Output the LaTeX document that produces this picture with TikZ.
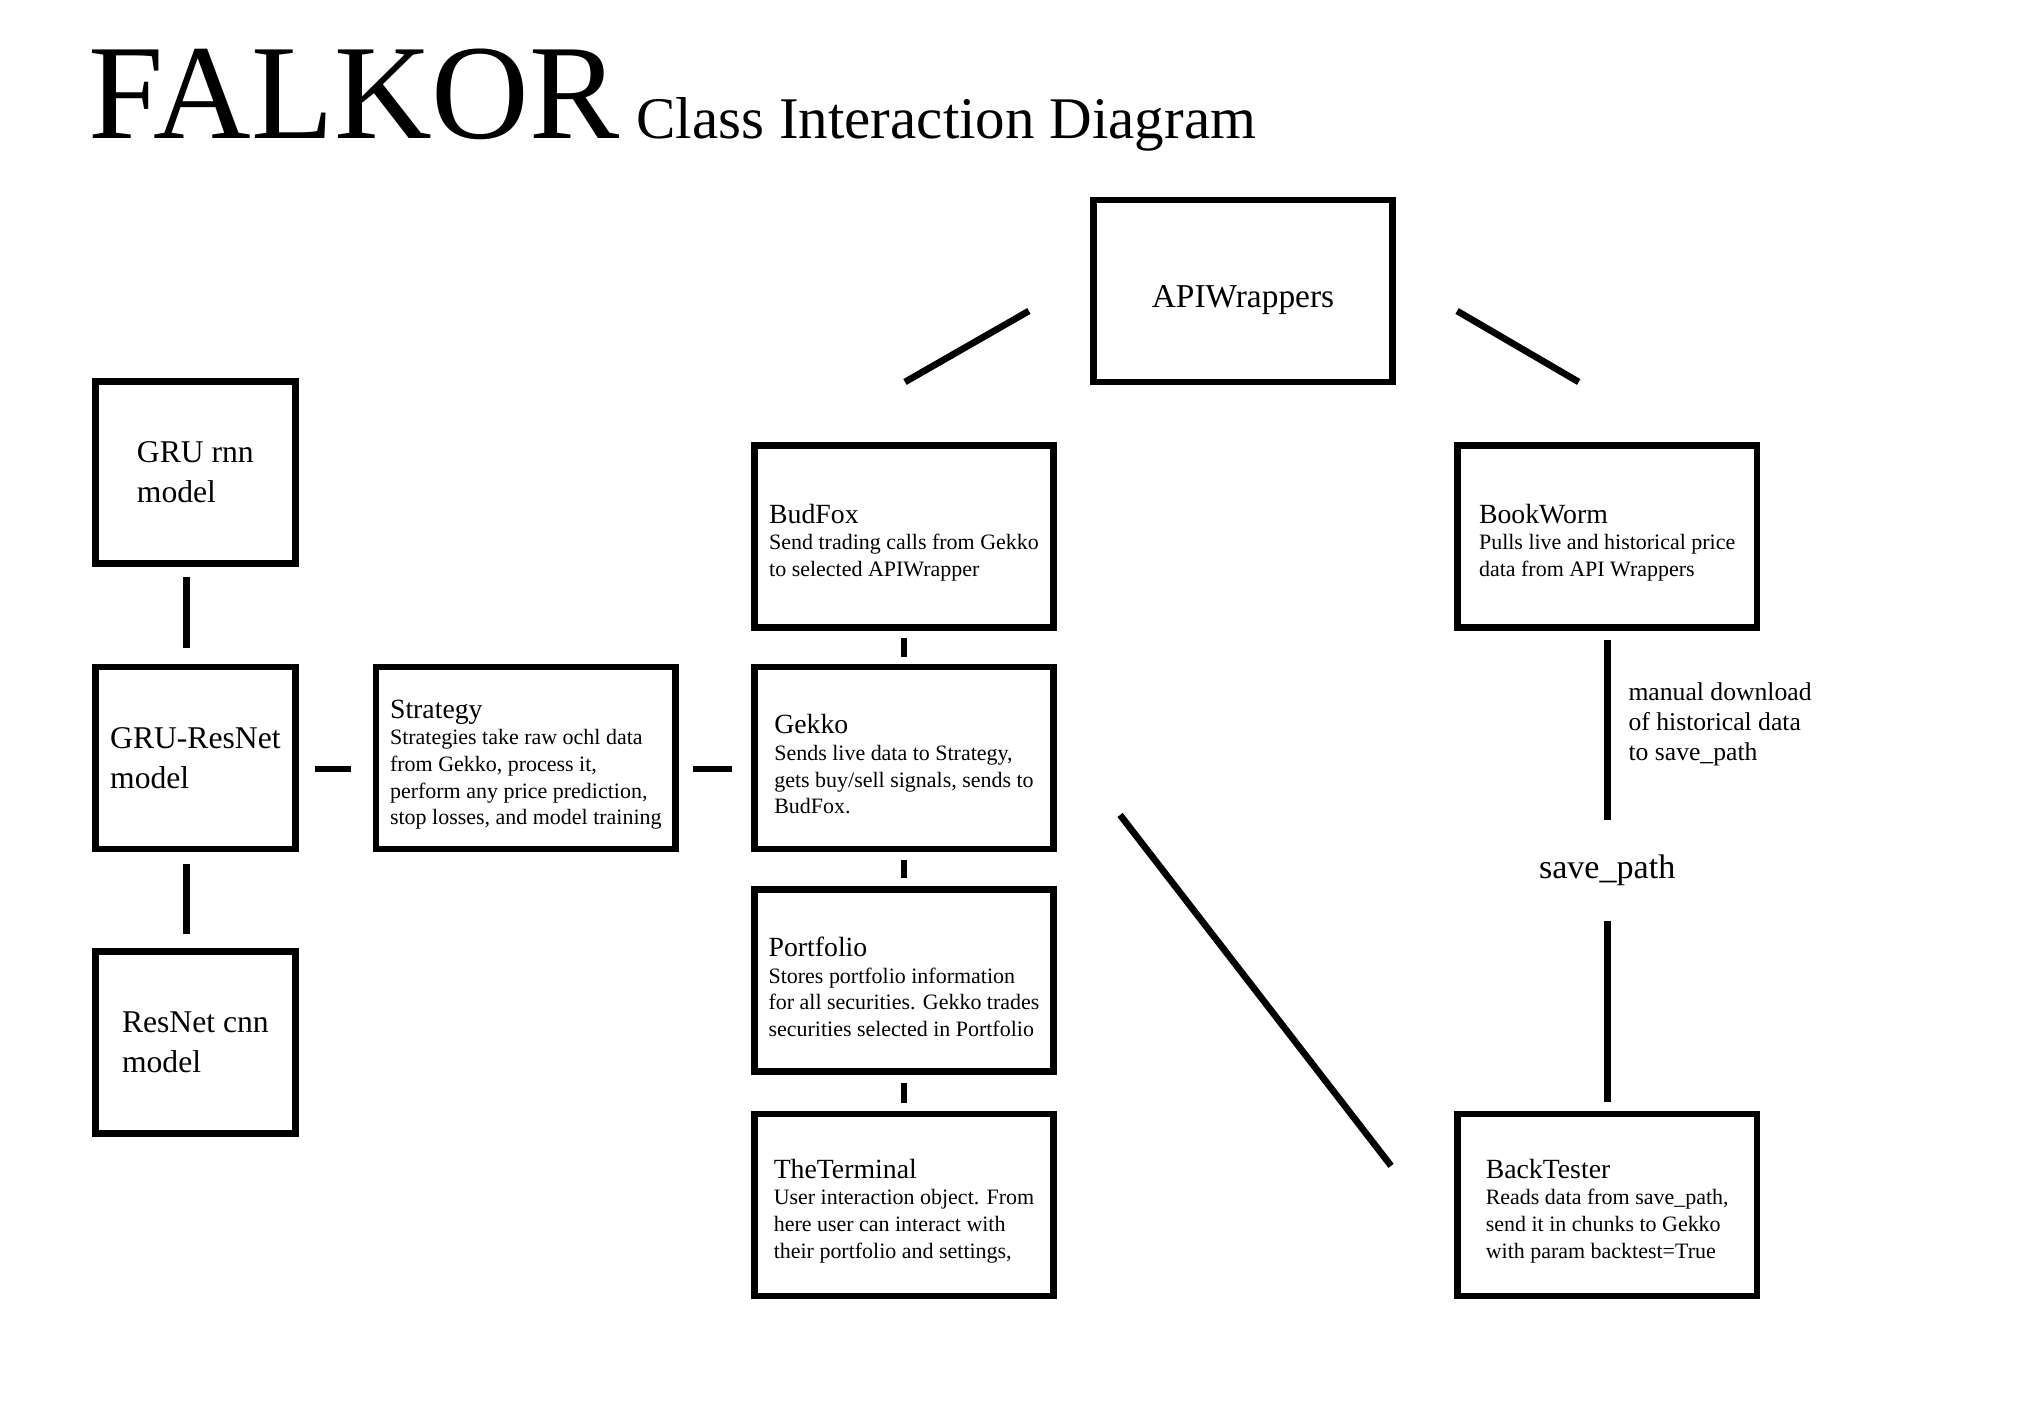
\documentclass[tikz,border=0pt]{standalone}
\usepackage{fontspec}
\setmainfont{Liberation Serif}
\usepackage{tikz}
\usetikzlibrary{positioning, calc}

\newcommand{\fkbody}{\fontsize{6.25}{7.6}\selectfont}
\newcommand{\fkbig}{\fontsize{9}{11.4}\selectfont}
\newcommand{\clsname}[1]{{\fontsize{7.9}{7.6}\selectfont\rule{0pt}{9pt}#1}}

\tikzset{
  fk-class/.style={
    rectangle, draw=black, line width=1.9pt, fill=white,
    minimum width=2.995cm, minimum height=1.82cm, align=left,
    font=\fkbody
  },
  fk-model/.style={fk-class, minimum width=2.0cm, font=\fkbig},
  fk-link/.style={draw=black, line width=1.9pt},
}

\begin{document}
\begin{tikzpicture}
  \useasboundingbox[fill=white] (0,0) rectangle (20.34,14.17);

  % title
  \node[anchor=base west, inner sep=0, font=\fontsize{38.5}{41}\selectfont] (falkor) at (0.88,12.78) {FALKOR};
  \node[anchor=base west, inner sep=0, font=\fontsize{16.8}{20}\selectfont] (subtitle) at ([xshift=0.15cm]falkor.base east) {Class Interaction Diagram};

  % middle column
  \node[fk-class]                        (gekko)     at (9.04,6.59) {\clsname{Gekko}\\ Sends live data to Strategy,\\ gets buy/sell signals, sends to\\ BudFox.};
  \node[fk-class, above=0.33cm of gekko]      (budfox)    {\clsname{BudFox}\\ Send trading calls from Gekko\\ to selected APIWrapper};
  \node[fk-class, below=0.34cm of gekko]      (portfolio) {\clsname{Portfolio}\\ Stores portfolio information\\ for all securities. Gekko trades\\ securities selected in Portfolio};
  \node[fk-class, below=0.355cm of portfolio] (terminal)  {\clsname{TheTerminal}\\ User interaction object. From\\ here user can interact with\\ their portfolio and settings,};
  \node[fk-class, left=0.72cm of gekko]       (strategy)  {\clsname{Strategy}\\ Strategies take raw ochl data\\ from Gekko, process it,\\ perform any price prediction,\\ stop losses, and model training};

  % models
  \node[fk-model, left=0.74cm of strategy]   (gruresnet) {GRU-ResNet\\ model};
  \node[fk-model, above=0.97cm of gruresnet] (grurnn)    {GRU rnn\\ model};
  \node[fk-model, below=0.96cm of gruresnet] (resnet)    {ResNet cnn\\ model};

  % data side
  \node[fk-class, font=\fontsize{9.5}{11}\selectfont, text height=11.5pt] (apiw) at (12.43,11.26) {APIWrappers};
  \node[fk-class, right=3.97cm of budfox]    (bookworm)   {\clsname{BookWorm}\\ Pulls live and historical price\\ data from API Wrappers};
  \node[fk-class, right=3.97cm of terminal]  (backtester) {\clsname{BackTester}\\ Reads data from save\_path,\\ send it in chunks to Gekko\\ with param backtest=True};
  \node[inner sep=0, outer sep=0, minimum height=1.01cm, font=\fontsize{9.7}{11}\selectfont]
    (savepath) at ($(bookworm.south)!0.5!(backtester.north)$) {save\_path};

  % links
  \draw[fk-link] ([shift={(-0.61,-0.20)}]apiw.west) -- ([shift={(0.01,0.60)}]budfox.north);
  \draw[fk-link] ([shift={(0.61,-0.20)}]apiw.east) -- ([shift={(-0.285,0.60)}]bookworm.north);
  \draw[fk-link, shorten <=0.07cm, shorten >=0.07cm] (budfox) -- (gekko);
  \draw[fk-link, shorten <=0.08cm, shorten >=0.08cm] (gekko) -- (portfolio);
  \draw[fk-link, shorten <=0.08cm, shorten >=0.08cm] (portfolio) -- (terminal);
  \draw[fk-link, shorten <=0.10cm, shorten >=0.16cm] ([xshift=-0.09cm]grurnn.south) -- ([xshift=-0.09cm]gruresnet.north);
  \draw[fk-link, shorten <=0.12cm, shorten >=0.14cm] ([xshift=-0.09cm]gruresnet.south) -- ([xshift=-0.09cm]resnet.north);
  \draw[fk-link, shorten <=0.16cm, shorten >=0.22cm] ([yshift=-0.11cm]gruresnet.east) -- ([yshift=-0.11cm]strategy.west);
  \draw[fk-link, shorten <=0.14cm, shorten >=0.19cm] ([yshift=-0.11cm]strategy.east) -- ([yshift=-0.11cm]gekko.west);
  \draw[fk-link] ([shift={(0.63,-0.57)}]gekko.east) -- ([shift={(-0.63,0.39)}]backtester.west);
  \draw[fk-link, shorten <=0.09cm] (bookworm.south) -- (savepath.north)
    node[pos=0.43, anchor=west, xshift=0.18cm, yshift=-0.12cm, inner sep=0, align=left, font=\fontsize{7.3}{8.5}\selectfont]
    (dllabel) {manual download\\ of historical data\\ to save\_path};
  \draw[fk-link, shorten <=0.09cm] (backtester.north) -- (savepath.south);
\end{tikzpicture}
\end{document}
